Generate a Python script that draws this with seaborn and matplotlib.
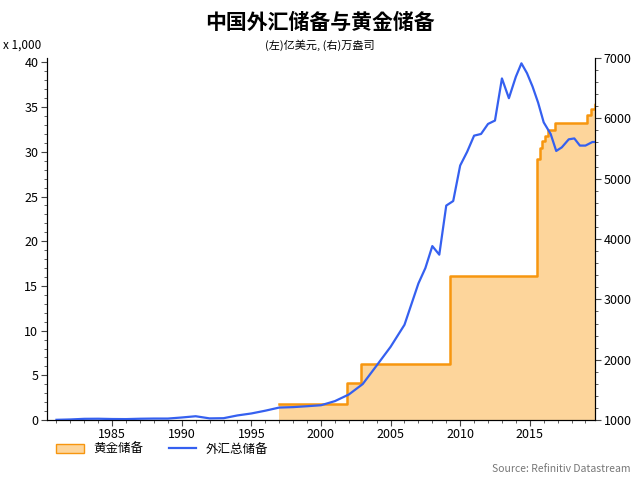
import matplotlib
matplotlib.use("Agg")
import matplotlib.pyplot as plt
import seaborn as sns
import pandas as pd
from matplotlib import font_manager
from matplotlib.ticker import MultipleLocator
from matplotlib.lines import Line2D
from matplotlib.patches import Patch

cjk = [f.name for f in font_manager.fontManager.ttflist if "CJK" in f.name]
pref = [n for n in ["Noto Sans CJK SC", "Noto Sans CJK JP", "Noto Sans CJK TC", "Noto Sans CJK KR"] if n in cjk]
fam = (pref or cjk or ["DejaVu Sans"])[0]
plt.rcParams["font.family"] = [fam, "DejaVu Sans"]
plt.rcParams["axes.unicode_minus"] = False

fx_year = [1981.0, 1982.0, 1983.0, 1984.0, 1985.0, 1986.0, 1987.0, 1988.0, 1989.0, 1990.0, 1991.0, 1992.0,
           1993.0, 1994.0, 1995.0, 1996.0, 1997.0, 1998.0, 1999.0, 2000.0, 2001.0, 2002.0, 2003.0, 2004.0,
           2005.0, 2006.0, 2007.0, 2007.5, 2008.0, 2008.5, 2009.0, 2009.5, 2010.0, 2010.5, 2011.0, 2011.5,
           2012.0, 2012.5, 2013.0, 2013.5, 2014.0, 2014.4, 2014.8, 2015.2, 2015.6, 2016.0, 2016.5, 2016.9,
           2017.3, 2017.8, 2018.2, 2018.6, 2019.0, 2019.5, 2019.9]
fx_value = [0.03, 0.07, 0.14, 0.15, 0.12, 0.11, 0.15, 0.17, 0.17, 0.29, 0.43, 0.19,
            0.21, 0.52, 0.74, 1.05, 1.40, 1.45, 1.55, 1.66, 2.12, 2.86, 4.03, 6.10,
            8.19, 10.66, 15.28, 17.0, 19.46, 18.5, 23.99, 24.5, 28.47, 30.0, 31.81, 32.0,
            33.12, 33.5, 38.21, 36.0, 38.4, 39.9, 38.8, 37.3, 35.5, 33.3, 32.0, 30.1,
            30.5, 31.4, 31.5, 30.7, 30.7, 31.1, 31.1]

gold_year = [1997.0, 2001.9, 2002.9, 2009.3, 2015.5, 2015.7, 2015.9, 2016.1, 2016.3, 2016.8, 2018.9, 2019.1, 2019.4, 2019.7, 2019.9]
gold_value = [1267, 1608, 1929, 3389, 5331, 5504, 5620, 5700, 5800, 5924, 5924, 6062, 6161, 6245, 6264]

fx = pd.DataFrame({"year": fx_year, "value": fx_value})
gold = pd.DataFrame({"year": gold_year, "value": gold_value})

fig = plt.figure(figsize=(6.4, 4.79), dpi=100)
ax = fig.add_axes([0.073, 0.123, 0.857, 0.756])
ax2 = ax.twinx()
ax.set_zorder(2)
ax.patch.set_visible(False)

ax2.fill_between(gold["year"], 1000, gold["value"], step="post", color="#fdd59b", lw=0)
ax2.plot(gold["year"], gold["value"], drawstyle="steps-post", color="#f7960f", lw=1.8)
sns.lineplot(data=fx, x="year", y="value", ax=ax, color="#3560f0", lw=1.6)

ax.set_xlim(1980.3, 2019.7)
ax.set_ylim(0, 40.5)
ax2.set_ylim(1000, 7000)
ax.set_xlabel("")
ax.set_ylabel("")
ax.xaxis.set_major_locator(MultipleLocator(5))
ax.xaxis.set_minor_locator(MultipleLocator(1))
ax.yaxis.set_major_locator(MultipleLocator(5))
ax.yaxis.set_minor_locator(MultipleLocator(1))
ax2.yaxis.set_major_locator(MultipleLocator(1000))
ax2.yaxis.set_minor_locator(MultipleLocator(200))
for a in (ax, ax2):
    a.spines["top"].set_visible(False)
    a.tick_params(labelsize=9, length=4, color="#444", pad=2)
    a.tick_params(which="minor", length=2, color="#444")

fig.text(0.5, 0.975, "中国外汇储备与黄金储备", ha="center", va="top", fontsize=15, fontweight="bold")
fig.text(0.5, 0.918, "(左)亿美元, (右)万盎司", ha="center", va="top", fontsize=8)
fig.text(0.005, 0.905, "x 1,000", ha="left", va="center", fontsize=8.5)
fig.text(0.985, 0.01, "Source: Refinitiv Datastream", ha="right", va="bottom", fontsize=7.5, color="#777")

handles = [Patch(facecolor="#fdd59b", edgecolor="#f7960f"), Line2D([], [], color="#3560f0", lw=1.6)]
fig.legend(handles, ["黄金储备", "外汇总储备"], loc="lower left", bbox_to_anchor=(0.07, 0.025),
           ncol=2, frameon=False, fontsize=9, handlelength=2.2, columnspacing=2)

fig.savefig("out.png", dpi=100)
